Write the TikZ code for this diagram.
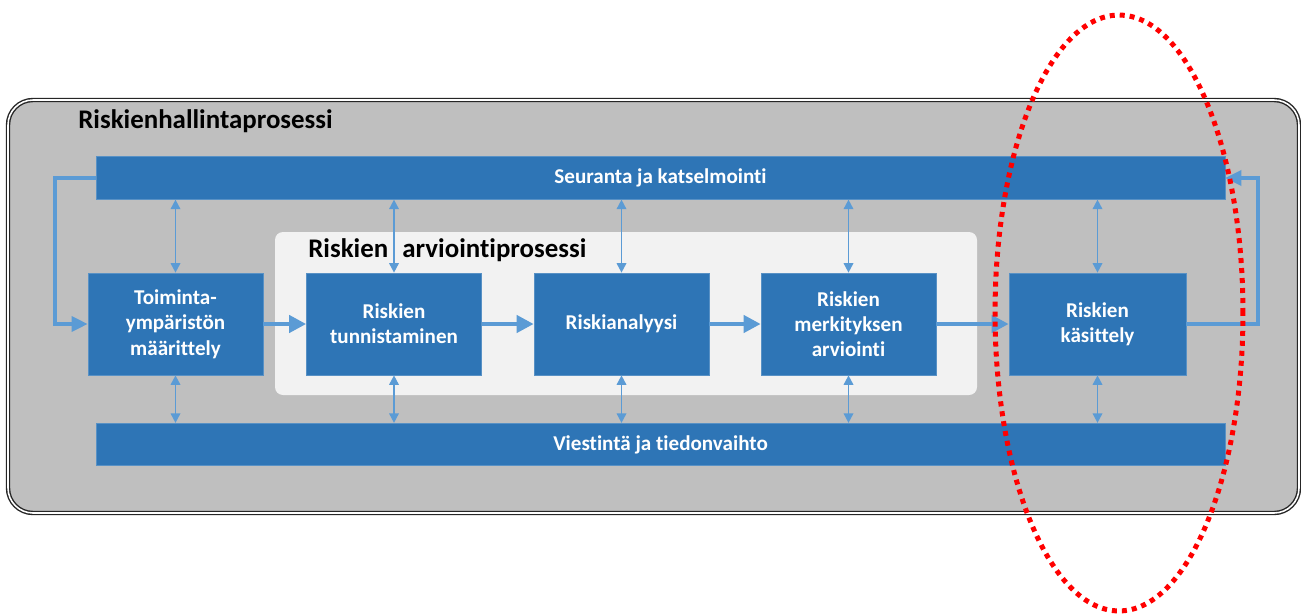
\documentclass[tikz,border=0pt]{standalone}
\usepackage{fontspec}
\setmainfont{Carlito}[Ligatures=NoCommon]
\usetikzlibrary{arrows.meta}
\definecolor{boxblue}{HTML}{2E75B6}
\definecolor{arrowblue}{HTML}{5B9BD5}
\definecolor{outergray}{HTML}{BFBFBF}
\definecolor{innergray}{HTML}{F2F2F2}

\begin{document}
\begin{tikzpicture}[x=0.02cm, y=-0.02cm,
  box/.style={fill=boxblue, draw=boxblue!80!white, line width=0.4pt, text=white,
    font=\fontsize{12}{14.4}\selectfont\bfseries, align=center,
    minimum width=3.5cm, minimum height=2.04cm, inner sep=2pt},
  bar/.style={fill=boxblue, draw=boxblue!80!white, line width=0.4pt, text=white,
    font=\fontsize{12}{14.4}\selectfont\bfseries,
    minimum width=22.58cm, minimum height=0.85cm, inner sep=0pt},
  flow/.style={-{Triangle[length=0.34cm, width=0.34cm]}, line width=2.3pt, arrowblue},
  pair/.style={{Triangle[length=0.19cm, width=0.19cm]}-{Triangle[length=0.19cm, width=0.19cm]}, line width=1pt, arrowblue},
  loopline/.style={-{Triangle[length=0.32cm, width=0.3cm]}, line width=1.9pt, arrowblue},
  heading/.style={anchor=base west, inner sep=0pt, font=\fontsize{15.3}{18}\selectfont\bfseries, text=black},
  oval/.style={draw=red, line width=0.1cm, dash pattern=on 0.1cm off 0.1cm}
]
\useasboundingbox (0,0) rectangle (1301,615);

% Outer process frame
\draw[fill=outergray, draw=black!85, double=white, double distance=0.9pt, line width=0.8pt, rounded corners=0.5cm]
  (8,100) rectangle (1299,513);
\node[heading] (title) at (78,129) {Riskienhallintaprosessi};

% ---- Inner assessment panel ----
\fill[innergray, rounded corners=0.16cm] (275,232) rectangle (977,395);
\node[heading] (subtitle) at (308,257) {Riskien\hspace{0.3em} arviointiprosessi};

% ---- Bars ----
\node[bar] (seuranta) at (660.5,178) {Seuranta ja katselmointi};
\node[bar] (viestinta) at (660.5,444.5) {Viestintä ja tiedonvaihto};

% ---- Process steps ----
\node[box] (toiminta) at (175.5,324) {Toiminta-\\ympäristön\\määrittely};
\node[box] (tunnistus) at (394,324) {Riskien\\tunnistaminen};
\node[box] (analyysi) at (621.5,324) {Riskianalyysi};
\node[box] (merkitys) at (848.5,324) {Riskien\\merkityksen\\arviointi};
\node[box, minimum width=3.54cm] (kasittely) at (1097.5,324) {Riskien\\käsittely};

% Main flow
\draw[flow] (toiminta) -- (tunnistus);
\draw[flow] (tunnistus) -- (analyysi);
\draw[flow] (analyysi) -- (merkitys);
\draw[flow] (merkitys) -- (kasittely);

% Feedback loops
\coordinate (loopL) at (55,324);
\coordinate (loopR) at (1258,178);
\draw[loopline] (seuranta.west) -| (loopL) -- (toiminta.west);
\draw[loopline] (kasittely.east) -| (loopR) -- (seuranta.east);

% Links to the bars
\foreach \n in {toiminta, tunnistus, analyysi, merkitys, kasittely} {
  \draw[pair] (\n.north) -- (\n.north |- seuranta.south);
  \draw[pair] (\n.south) -- (\n.south |- viestinta.north);
}

% Highlight
\draw[oval] (1119,313) ellipse [x radius=2.48cm, y radius=5.96cm];

\end{tikzpicture}
\end{document}
